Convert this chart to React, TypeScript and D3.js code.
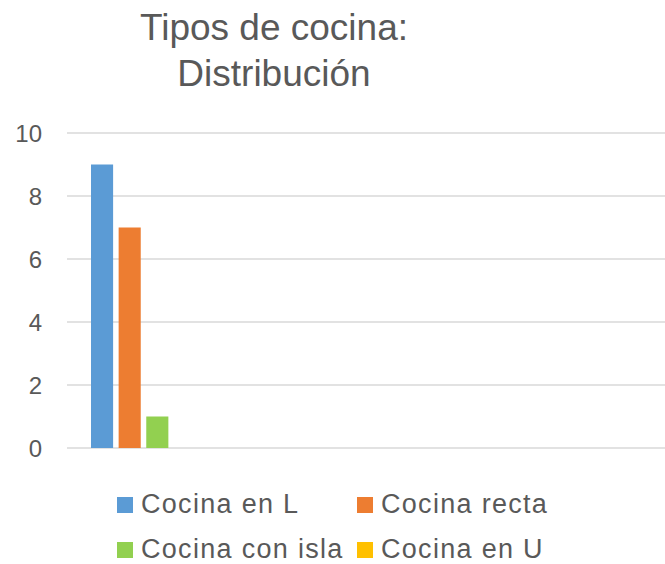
import React from "react";
import * as d3 from "d3";

const categories = ["C1", "C2", "C3", "C4"];
const seriesNames = ["Cocina en L", "Cocina recta", "Cocina con isla", "Cocina en U"];
const seriesColors = ["#5b9bd5", "#ed7d31", "#92d050", "#ffc000"];
// values per series for each category (only the first category holds data)
const cocinaEnL = [9, null, null, null];
const cocinaRecta = [7, null, null, null];
const cocinaConIsla = [1, null, null, null];
const cocinaEnU = [0, null, null, null];
const yTicks = [0, 2, 4, 6, 8, 10];
const titleLines = ["Tipos de cocina:", "Distribución"];

const W = 665;
const H = 564;
const FONT = "'Liberation Sans', Arial, sans-serif";
const TEXT = "#595959";

export default function App() {
  const seriesValues = [cocinaEnL, cocinaRecta, cocinaConIsla, cocinaEnU];
  const plotLeft = 67;
  const plotRight = 665;
  const y = d3.scaleLinear().domain([0, 10]).range([448, 133]);
  const x0 = d3.scaleBand<string>().domain(categories).range([plotLeft + 2, plotRight]).padding(0);
  const groupW = 105;
  const x1 = d3
    .scaleBand<string>()
    .domain(seriesNames)
    .range([0, groupW])
    .paddingInner(0.2)
    .paddingOuter(0);

  const legendItems = [
    { x: 117, y: 497 },
    { x: 357, y: 497 },
    { x: 117, y: 542 },
    { x: 357, y: 542 },
  ];

  return (
    <div style={{ position: "fixed", left: 0, top: 0 }}>
      <svg width={W} height={H} style={{ display: "block", background: "#fff" }}>
        {titleLines.map((t, i) => (
          <text
            key={i}
            x={274}
            y={40 + i * 46}
            textAnchor="middle"
            fontFamily={FONT}
            fontSize={37}
            fill={TEXT}
          >
            {t}
          </text>
        ))}
        {yTicks.map((t) => (
          <g key={t}>
            <line
              x1={plotLeft}
              x2={plotRight}
              y1={y(t)}
              y2={y(t)}
              stroke="#d9d9d9"
              strokeWidth={1.5}
            />
            <text
              x={42}
              y={y(t)}
              dy="0.36em"
              textAnchor="end"
              fontFamily={FONT}
              fontSize={24}
              fill={TEXT}
            >
              {t}
            </text>
          </g>
        ))}
        {categories.map((c, ci) => {
          const cx = (x0(c) as number) + x0.bandwidth() / 2 - groupW / 2;
          return (
            <g key={c}>
              {seriesNames.map((s, si) => {
                const v = seriesValues[si][ci];
                if (v === null || v === undefined) return null;
                const top = y(v);
                return (
                  <rect
                    key={s}
                    x={cx + (x1(s) as number)}
                    y={top}
                    width={x1.bandwidth()}
                    height={Math.max(0, y(0) - top)}
                    fill={seriesColors[si]}
                  />
                );
              })}
            </g>
          );
        })}
        {seriesNames.map((s, i) => (
          <g key={s}>
            <rect
              x={legendItems[i].x}
              y={legendItems[i].y}
              width={16}
              height={16}
              fill={seriesColors[i]}
            />
            <text
              x={legendItems[i].x + 24}
              y={legendItems[i].y + 16}
              fontFamily={FONT}
              fontSize={27}
              letterSpacing={1.3}
              fill={TEXT}
            >
              {s}
            </text>
          </g>
        ))}
      </svg>
    </div>
  );
}
